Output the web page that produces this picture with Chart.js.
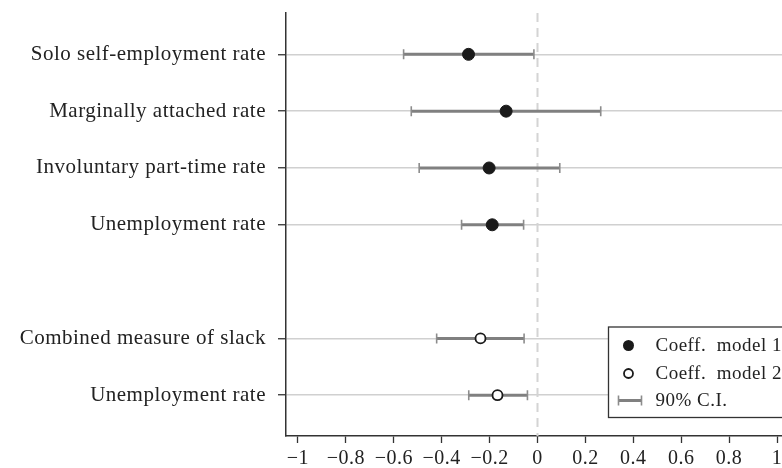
<!DOCTYPE html>
<html><head><meta charset="utf-8">
<style>html,body{margin:0;padding:0;overflow:hidden;background:#fff;width:782px;height:468px}
#wrap{width:800px;height:468px}</style>
<script src="https://cdn.jsdelivr.net/npm/chart.js@4.4.1/dist/chart.umd.min.js"></script>
</head><body><div id="wrap"><canvas id="c" width="800" height="468"></canvas></div>
<script>
const categories = ["Solo self-employment rate","Marginally attached rate","Involuntary part-time rate","Unemployment rate","","Combined measure of slack","Unemployment rate"];
const model  = [1, 1, 1, 1, null, 2, 2];
const coef   = [-0.288, -0.131, -0.202, -0.189, null, -0.238, -0.167];
const ciLow  = [-0.559, -0.527, -0.494, -0.317, null, -0.421, -0.287];
const ciHigh = [-0.015, 0.264, 0.093, -0.058, null, -0.056, -0.042];
const xTicks = [-1, -0.8, -0.6, -0.4, -0.2, 0, 0.2, 0.4, 0.6, 0.8, 1];
const legendLabels = ["Coeff.  model 1", "Coeff.  model 2", "90% C.I."];

const FONT = "'Liberation Serif', 'Times New Roman', serif";
const DARK = '#222';

function pts(m){
  const out=[];
  categories.forEach((c,i)=>{ if(model[i]===m && coef[i]!=null) out.push({x:coef[i], y:i}); });
  return out;
}

const spacing = {id:'spacing',
  beforeUpdate(c){ c.ctx.letterSpacing='0.5px'; },
  beforeDraw(c){ c.ctx.letterSpacing='0.5px'; }
};

const errorBars = {id:'errorBars', beforeDatasetsDraw(chart){
  const {ctx, chartArea:a, scales:{x,y}} = chart;
  ctx.save();
  const x0 = x.getPixelForValue(0);
  ctx.strokeStyle='#d4d4d4'; ctx.lineWidth=2; ctx.setLineDash([9,6]);
  ctx.beginPath(); ctx.moveTo(x0,a.top); ctx.lineTo(x0,a.bottom); ctx.stroke();
  ctx.setLineDash([]);
  categories.forEach((c,i)=>{
    if(coef[i]==null) return;
    const py=y.getPixelForValue(i), l=x.getPixelForValue(ciLow[i]), h=x.getPixelForValue(ciHigh[i]);
    ctx.strokeStyle='#808080'; ctx.lineWidth=3;
    ctx.beginPath(); ctx.moveTo(l,py); ctx.lineTo(h,py); ctx.stroke();
    ctx.strokeStyle='#8c8c8c'; ctx.lineWidth=1.6;
    ctx.beginPath(); ctx.moveTo(l,py-5); ctx.lineTo(l,py+5); ctx.moveTo(h,py-5); ctx.lineTo(h,py+5); ctx.stroke();
  });
  ctx.restore();
}};

const legendBox = {id:'legendBox', afterDraw(chart){
  const {ctx, chartArea:a} = chart;
  ctx.save();
  const L = a.right-180.5, T = a.bottom-109, B = a.bottom-18.5, R = a.right+10;
  ctx.fillStyle='#fff'; ctx.fillRect(L,T,R-L,B-T);
  ctx.strokeStyle='#333'; ctx.lineWidth=1.3; ctx.strokeRect(L,T,R-L,B-T);
  const rows=[T+18.5, T+46.5, T+73.5];
  const cx=L+20;
  ctx.fillStyle='#1a1a1a'; ctx.beginPath(); ctx.arc(cx,rows[0],5.5,0,Math.PI*2); ctx.fill();
  ctx.fillStyle='#fff'; ctx.strokeStyle='#1a1a1a'; ctx.lineWidth=1.8;
  ctx.beginPath(); ctx.arc(cx,rows[1],4.5,0,Math.PI*2); ctx.fill(); ctx.stroke();
  ctx.strokeStyle='#808080'; ctx.lineWidth=3;
  ctx.beginPath(); ctx.moveTo(L+10,rows[2]); ctx.lineTo(L+33,rows[2]); ctx.stroke();
  ctx.strokeStyle='#8c8c8c'; ctx.lineWidth=1.6;
  ctx.beginPath(); ctx.moveTo(L+10,rows[2]-5); ctx.lineTo(L+10,rows[2]+5); ctx.moveTo(L+33,rows[2]-5); ctx.lineTo(L+33,rows[2]+5); ctx.stroke();
  ctx.fillStyle=DARK; ctx.font="19px "+FONT; ctx.textBaseline='middle'; ctx.textAlign='left';
  legendLabels.forEach((t,k)=>ctx.fillText(t, L+47, rows[k]+1));
  ctx.restore();
}};

new Chart(document.getElementById('c'), {
  type:'scatter',
  data:{datasets:[
    {label:legendLabels[0], data:pts(1), pointRadius:6, pointHoverRadius:6, backgroundColor:'#1a1a1a', borderColor:'#1a1a1a', borderWidth:1},
    {label:legendLabels[1], data:pts(2), pointRadius:5, pointHoverRadius:5, backgroundColor:'#fff', borderColor:'#1a1a1a', borderWidth:1.8}
  ]},
  options:{
    responsive:false, animation:false, devicePixelRatio:1,
    layout:{padding:{left:0, right:11, top:13, bottom:0}},
    plugins:{legend:{display:false}, tooltip:{enabled:false}},
    scales:{
      x:{type:'linear', min:-1.05, max:1.05,
        afterBuildTicks(s){ s.ticks = xTicks.map(v=>({value:v})); },
        afterFit(s){ s.height = 32; },
        grid:{drawOnChartArea:false, drawTicks:true, tickLength:7, tickColor:'#333', tickWidth:1.3},
        border:{display:true, color:'#333', width:1.5},
        ticks:{color:DARK, padding:4, maxRotation:0, autoSkip:false, font:{family:FONT, size:20},
          callback(v){ const r=Math.round(v*10)/10; return r<0 ? '\u2212'+String(-r) : String(r); }}
      },
      y:{type:'linear', reverse:true, min:-0.728, max:6.718,
        afterBuildTicks(s){ s.ticks = categories.map((c,i)=>c?{value:i}:null).filter(Boolean); },
        afterFit(s){ s.width = 286; s.paddingTop = 0; s.paddingBottom = 0; },
        grid:{color:'#d0d0d0', lineWidth:1.5, drawTicks:true, tickLength:8, tickColor:'#333', tickWidth:1.3},
        border:{display:true, color:'#333', width:1.5},
        ticks:{color:DARK, padding:12, autoSkip:false, font:{family:FONT, size:21},
          callback(v){ return categories[v]; }}
      }
    }
  },
  plugins:[spacing, errorBars, legendBox]
});
</script></body></html>
